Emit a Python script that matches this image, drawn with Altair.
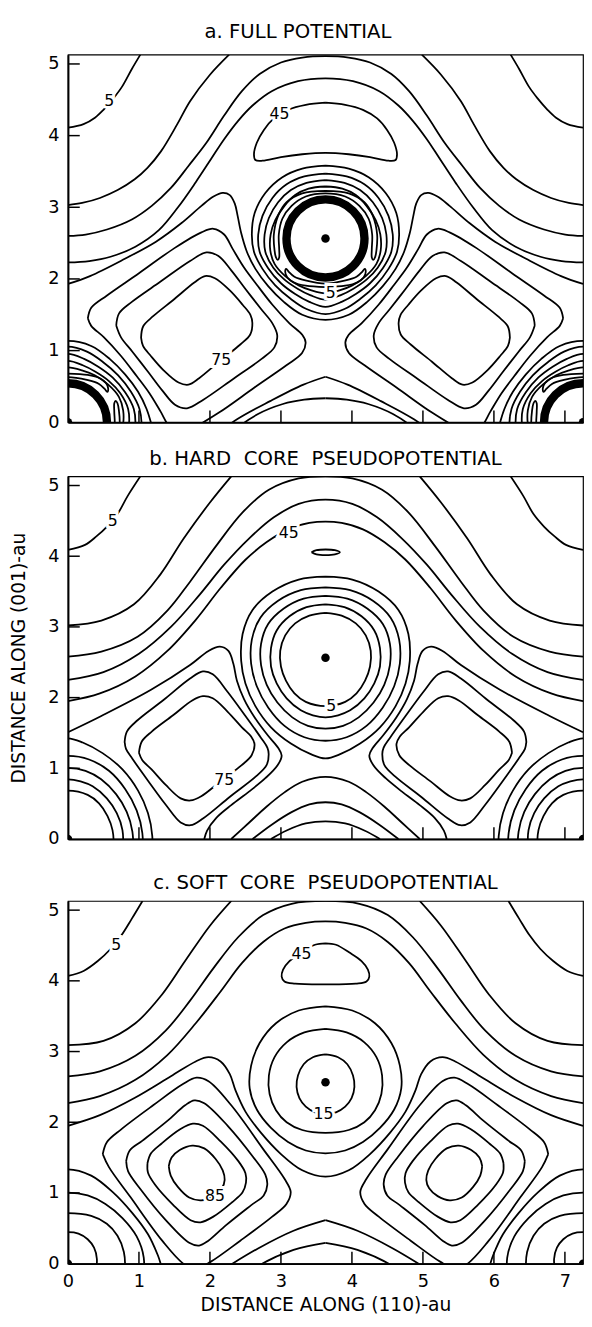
import altair as alt
import pandas as pd

FONT = "DejaVu Sans"
XMAX, YMAX = 7.255, 5.13          # plot extent (au)
CX, CY = 3.6275, 2.565            # centre atom
W = 524

ATOM_X = [0.0, 3.6275, 7.255]
ATOM_Y = [0.0, 2.565, 0.0]
X_LABELS = [0, 1, 2, 3, 4, 5, 6, 7]
Y_LABELS = [0, 1, 2, 3, 4, 5]
X_TICKS_IN = [1, 2, 3, 4, 5, 6, 7]
Y_TICKS_IN = [1, 2, 3, 4, 5]

# ---------------- panel a : full potential ----------------
A5 = [(1.02, 5.13), (0.90, 4.93), (0.76, 4.68), (0.64, 4.52), (0.50, 4.36), (0.38, 4.25), (0.22, 4.16), (0.0, 4.11)]
A15 = [(2.27, 5.13), (2.00, 4.85), (1.72, 4.48), (1.54, 4.16), (1.31, 3.78), (1.12, 3.55), (0.94, 3.39),
       (0.70, 3.24), (0.45, 3.13), (0.20, 3.06), (0.0, 3.03)]
A25 = [(0, 2.60), (0.25, 2.62), (0.55, 2.69), (0.90, 2.83), (1.18, 3.02), (1.45, 3.27), (1.70, 3.58), (1.95, 3.90),
       (2.20, 4.28), (2.45, 4.62), (2.70, 4.86), (3.00, 5.02), (3.30, 5.09), (3.6275, 5.11)]
A35 = [(0, 2.23), (0.30, 2.25), (0.60, 2.31), (0.95, 2.45), (1.28, 2.68), (1.55, 3.00), (1.80, 3.35), (2.02, 3.68),
       (2.20, 3.95), (2.40, 4.21), (2.60, 4.42), (2.87, 4.62), (3.24, 4.76), (3.6275, 4.80)]
A45U = [(0, 1.93), (0.31, 2.04), (0.78, 2.27), (1.24, 2.52), (1.60, 2.78), (1.88, 3.02), (2.05, 3.15), (2.18, 3.20),
        (2.28, 3.17), (2.35, 3.05), (2.39, 2.88), (2.44, 2.64), (2.52, 2.38), (2.64, 2.14), (2.82, 1.90),
        (3.04, 1.68), (3.30, 1.50), (3.6275, 1.43)]
A45LOOP = [(3.6275, 4.46), (3.35, 4.43), (3.10, 4.36), (2.90, 4.24), (2.76, 4.08), (2.66, 3.90), (2.62, 3.74),
           (2.64, 3.66), (2.74, 3.65), (3.00, 3.70), (3.30, 3.74), (3.6275, 3.76)]
AR35 = [(3.6275, 3.58), (3.30, 3.54), (3.02, 3.42), (2.78, 3.20), (2.63, 2.92), (2.59, 2.62), (2.62, 2.38),
        (2.74, 2.14), (2.92, 1.91), (3.14, 1.72), (3.36, 1.58), (3.6275, 1.51)]
AR25 = [(3.6275, 3.47), (3.33, 3.43), (3.08, 3.32), (2.88, 3.13), (2.74, 2.88), (2.68, 2.62), (2.70, 2.38),
        (2.82, 2.15), (3.00, 1.94), (3.20, 1.79), (3.40, 1.68), (3.6275, 1.61)]
AR15 = [(3.6275, 3.38), (3.36, 3.34), (3.14, 3.24), (2.96, 3.07), (2.83, 2.85), (2.77, 2.62), (2.78, 2.38),
        (2.89, 2.16), (3.05, 1.99), (3.24, 1.86), (3.42, 1.77), (3.6275, 1.71)]
AR5 = [(3.6275, 3.29), (3.39, 3.26), (3.20, 3.17), (3.05, 3.02), (2.92, 2.82), (2.855, 2.62), (2.85, 2.40),
       (2.91, 2.21), (3.06, 2.04), (3.25, 1.91), (3.43, 1.84), (3.6275, 1.80)]
AHORSE = [(3.6275, 3.23), (3.30, 3.195), (3.08, 3.07), (2.96, 2.88), (2.90, 2.62), (2.91, 2.40), (2.93, 2.30),
          (2.955, 2.265), (2.975, 2.30), (2.975, 2.42), (2.97, 2.62), (3.02, 2.84), (3.15, 3.02), (3.35, 3.15),
          (3.6275, 3.195)]
ACRESC = [(3.6275, 1.885), (3.35, 1.905), (3.18, 1.95), (3.09, 2.02), (3.06, 2.10), (3.075, 2.14), (3.11, 2.10),
          (3.19, 2.03), (3.36, 1.975), (3.6275, 1.935)]
A55 = [(0.28, 1.45), (0.33, 1.60), (0.55, 1.77), (1.00, 2.08), (1.50, 2.43), (1.88, 2.65), (2.05, 2.70),
       (2.20, 2.62), (2.32, 2.42), (2.48, 2.16), (2.66, 1.92), (2.88, 1.64), (3.12, 1.38), (3.30, 1.22), (3.3475, 1.115)]
A65 = [(0.68, 1.35), (0.72, 1.52), (0.90, 1.68), (1.30, 1.96), (1.72, 2.25), (1.95, 2.37), (2.12, 2.32),
       (2.30, 2.12), (2.50, 1.86), (2.72, 1.58), (2.88, 1.38), (2.9475, 1.215)]
A75 = [(1.03, 1.18), (1.06, 1.34), (1.20, 1.48), (1.50, 1.72), (1.78, 1.95), (1.93, 2.04), (2.07, 2.01),
       (2.28, 1.84), (2.46, 1.64), (2.57, 1.50), (2.5975, 1.385)]
A_LABELS = [("5", 0.58, 4.48), ("45", 2.98, 4.30), ("5", 3.70, 1.80), ("75", 2.16, 0.87)]

# ---------------- panel b : hard core pseudopotential ----------------
B5 = [(1.02, 5.13), (0.84, 4.85), (0.70, 4.60), (0.55, 4.42), (0.40, 4.28), (0.24, 4.16), (0.0, 4.09)]
B15 = [(2.30, 5.13), (2.00, 4.76), (1.63, 4.25), (1.30, 3.74), (0.93, 3.32), (0.47, 3.09), (0.0, 3.02)]
B25 = [(0, 2.58), (0.47, 2.65), (0.98, 2.86), (1.40, 3.23), (1.72, 3.64), (2.09, 4.15), (2.46, 4.62),
       (2.83, 4.94), (3.25, 5.10), (3.6275, 5.13)]
B35 = [(0, 2.25), (0.50, 2.36), (1.00, 2.62), (1.45, 3.00), (1.85, 3.45), (2.20, 3.88), (2.55, 4.25),
       (2.90, 4.55), (3.25, 4.74), (3.6275, 4.80)]
B45 = [(0, 1.95), (0.45, 2.06), (0.95, 2.30), (1.40, 2.66), (1.80, 3.10), (2.15, 3.55), (2.50, 3.95),
       (2.80, 4.20), (3.10, 4.38), (3.40, 4.47), (3.6275, 4.49)]
BELL = [(3.43, 4.055), (3.50, 4.085), (3.63, 4.095), (3.76, 4.085), (3.83, 4.055), (3.76, 4.025), (3.63, 4.015),
        (3.50, 4.025), (3.43, 4.055)]
BR5 = [(3.6275, 3.20), (3.40, 3.16), (3.20, 3.05), (3.06, 2.88), (2.99, 2.66), (3.00, 2.44), (3.07, 2.24),
       (3.19, 2.06), (3.35, 1.94), (3.6275, 1.88)]
BR15 = [(3.6275, 3.32), (3.36, 3.28), (3.12, 3.15), (2.94, 2.95), (2.86, 2.70), (2.86, 2.44), (2.94, 2.20),
        (3.08, 1.99), (3.28, 1.82), (3.45, 1.75), (3.6275, 1.72)]
BR25 = [(3.6275, 3.44), (3.32, 3.40), (3.04, 3.26), (2.82, 3.04), (2.72, 2.76), (2.72, 2.46), (2.80, 2.18),
        (2.95, 1.93), (3.16, 1.72), (3.38, 1.60), (3.6275, 1.56)]
BR35 = [(3.6275, 3.56), (3.28, 3.52), (2.96, 3.37), (2.71, 3.13), (2.59, 2.82), (2.58, 2.48), (2.66, 2.16),
        (2.82, 1.86), (3.05, 1.60), (3.33, 1.44), (3.6275, 1.39)]
BR45 = [(3.6275, 3.71), (3.25, 3.67), (2.88, 3.50), (2.60, 3.24), (2.46, 2.90), (2.44, 2.52), (2.50, 2.20),
        (2.64, 1.88), (2.86, 1.58), (3.14, 1.35), (3.42, 1.20), (3.6275, 1.14)]
B55 = [(0, 1.51), (0.47, 1.74), (1.17, 2.11), (1.72, 2.46), (1.98, 2.66), (2.14, 2.72), (2.26, 2.66), (2.33, 2.48),
       (2.38, 2.24), (2.48, 1.98), (2.63, 1.72), (2.82, 1.46), (2.96, 1.29), (3.01, 1.18), (2.95, 1.04),
       (2.78, 0.86), (2.55, 0.67), (2.30, 0.48), (2.09, 0.30), (1.96, 0.12), (1.92, 0.0)]
B65 = [(0.7975, 1.365), (0.83, 1.52), (0.98, 1.68), (1.35, 1.97), (1.72, 2.27), (1.90, 2.37), (2.04, 2.33),
       (2.25, 2.08), (2.50, 1.74), (2.72, 1.43), (2.81, 1.29), (2.8275, 1.20)]
B75 = [(1.00, 1.22), (1.04, 1.38), (1.18, 1.52), (1.48, 1.75), (1.75, 1.96), (1.90, 2.02), (2.04, 1.99),
       (2.25, 1.80), (2.45, 1.58), (2.58, 1.45), (2.6275, 1.345)]
BARCH1 = [(2.30, 0.0), (2.55, 0.23), (2.80, 0.46), (3.05, 0.66), (3.30, 0.81), (3.6275, 0.88)]
BARCH2 = [(2.60, 0.0), (2.88, 0.21), (3.15, 0.38), (3.40, 0.49), (3.6275, 0.52)]
BARCH3 = [(2.86, 0.0), (3.08, 0.12), (3.35, 0.22), (3.6275, 0.25)]
B_LABELS = [("5", 3.71, 1.88), ("5", 0.63, 4.50), ("45", 3.11, 4.33), ("75", 2.20, 0.84)]

# ---------------- panel c : soft core pseudopotential ----------------
C5 = [(1.05, 5.13), (0.90, 4.88), (0.75, 4.64), (0.60, 4.45), (0.42, 4.28), (0.22, 4.14), (0.0, 4.07)]
C15 = [(2.30, 5.13), (2.00, 4.78), (1.65, 4.28), (1.32, 3.80), (0.95, 3.40), (0.50, 3.15), (0.0, 3.09)]
C25 = [(0, 2.65), (0.45, 2.72), (0.95, 2.94), (1.38, 3.30), (1.72, 3.72), (2.05, 4.18), (2.40, 4.62),
       (2.75, 4.93), (3.15, 5.09), (3.6275, 5.13)]
C35 = [(0, 2.27), (0.45, 2.37), (0.95, 2.60), (1.40, 2.95), (1.80, 3.40), (2.15, 3.85), (2.45, 4.25),
       (2.75, 4.55), (3.05, 4.74), (3.35, 4.82), (3.6275, 4.84)]
C45U = [(0, 1.95), (0.45, 2.10), (0.95, 2.35), (1.45, 2.65), (1.80, 2.86), (1.98, 2.92), (2.15, 2.86),
        (2.28, 2.68), (2.36, 2.45), (2.50, 2.15), (2.72, 1.85), (3.00, 1.55), (3.30, 1.32), (3.6275, 1.23)]
C45LOOP = [(3.6275, 4.53), (3.48, 4.51), (3.29, 4.40), (3.12, 4.28), (3.03, 4.16), (3.01, 4.06), (3.05, 3.99),
           (3.20, 3.96), (3.6275, 3.95)]
CR15 = [(3.6275, 2.96), (3.45, 2.92), (3.32, 2.82), (3.24, 2.66), (3.22, 2.50), (3.26, 2.34), (3.35, 2.22),
        (3.48, 2.14), (3.6275, 2.12)]
CR25 = [(3.6275, 3.32), (3.33, 3.27), (3.08, 3.13), (2.91, 2.92), (2.83, 2.66), (2.84, 2.40), (2.93, 2.17),
        (3.08, 2.00), (3.30, 1.89), (3.6275, 1.85)]
CR35 = [(3.6275, 3.64), (3.25, 3.58), (2.93, 3.40), (2.70, 3.12), (2.58, 2.80), (2.56, 2.48), (2.66, 2.18),
        (2.86, 1.92), (3.10, 1.72), (3.35, 1.60), (3.6275, 1.56)]
C55 = [(0.49, 1.55), (0.55, 1.72), (0.75, 1.90), (1.20, 2.24), (1.62, 2.54), (1.81, 2.63), (1.98, 2.58),
       (2.30, 2.24), (2.75, 1.62), (3.05, 1.20), (3.1375, 1.015)]
C65 = [(0.82, 1.45), (0.87, 1.60), (1.05, 1.74), (1.40, 2.02), (1.65, 2.24), (1.78, 2.31), (1.92, 2.27),
       (2.25, 1.95), (2.60, 1.52), (2.78, 1.26), (2.8075, 1.115)]
C75 = [(1.12, 1.42), (1.17, 1.56), (1.32, 1.70), (1.58, 1.90), (1.76, 1.98), (1.90, 1.95), (2.15, 1.73),
       (2.40, 1.45), (2.50, 1.28), (2.5075, 1.145)]
C85 = [(1.42, 1.38), (1.46, 1.50), (1.58, 1.61), (1.75, 1.67), (1.92, 1.63), (2.08, 1.48), (2.18, 1.32),
       (2.2075, 1.185)]
C_LABELS = [("5", 0.68, 4.50), ("45", 3.29, 4.38), ("15", 3.60, 2.12), ("85", 2.07, 0.96)]


# symmetry helpers: mirror about x = 3.6275, 2-fold rotation about the bond centre
def M(p):
    return [(XMAX - x, y) for x, y in p]


def R(p):
    return [(CX - x, CY - y) for x, y in p]


def sym(h):
    return h + list(reversed(M(h)))[1:]


def bond(p):
    return p + R(p)[1:]


def build(sym_pieces, free_pieces, bond_pieces, rot_pieces):
    paths = [sym(h) for h in sym_pieces]
    for p in free_pieces:
        paths += [p, M(p)]
    for p in bond_pieces:
        b = bond(p)
        paths += [b, M(b)]
    for h in rot_pieces:
        r = R(sym(h))
        paths += [r, M(r)]
    return paths


PATHS_A = build([A25, A35, A45U, A45LOOP, AR35, AR25, AR15, AR5, AHORSE, ACRESC], [A5, A15], [A55, A65, A75],
                [A35, A45U, AR35, AR25, AR15, AR5, AHORSE, ACRESC])
PATHS_B = build([B25, B35, B45, BR5, BR15, BR25, BR35, BR45, BARCH1, BARCH2, BARCH3], [B5, B15, B55],
                [B65, B75], [BR5, BR15, BR25, BR35, BR45]) + [BELL]
PATHS_C = build([C25, C35, C45U, C45LOOP, CR15, CR25, CR35], [C5, C15], [C55, C65, C75, C85],
                [C35, C45U, CR15, CR25, CR35])


def frame(paths):
    rows = []
    for i, p in enumerate(paths):
        for j, (x, y) in enumerate(p):
            rows.append({"pid": i, "ord": j, "x": x, "y": y})
    return pd.DataFrame(rows)


XS = alt.Scale(domain=[0, XMAX], nice=False, zero=False)
YS = alt.Scale(domain=[0, YMAX], nice=False, zero=False)


def panel(paths, labels, title, show_x, title_offset, title_dx, y_title_opacity, thick, h):
    df = frame(paths)
    xaxis = alt.Axis(values=X_LABELS, ticks=False, grid=False, domainWidth=2, domainColor="black",
                     labelFlush=False, labels=show_x, title="DISTANCE ALONG (110)-au" if show_x else "",
                     labelPadding=9, titlePadding=6)
    yaxis = alt.Axis(values=Y_LABELS, ticks=False, grid=False, domainWidth=2, domainColor="black",
                     labelFlush=False, title="DISTANCE ALONG (001)-au", titleOpacity=y_title_opacity,
                     labelPadding=9, titlePadding=20)

    def xy(xf="x", yf="y"):
        return dict(x=alt.X(f"{xf}:Q", scale=XS, axis=xaxis), y=alt.Y(f"{yf}:Q", scale=YS, axis=yaxis))

    lines = alt.Chart(df).mark_line(interpolate="catmull-rom", clip=True, color="black", strokeWidth=1.8).encode(
        detail="pid:N", order="ord:Q", **xy())
    atoms = pd.DataFrame({"x": ATOM_X, "y": ATOM_Y})
    layers = [lines]
    if thick:
        layers.append(alt.Chart(atoms).mark_point(shape="circle", filled=False, size=6300, strokeWidth=8.5,
                                                  color="black", opacity=1, clip=True).encode(**xy()))
    layers.append(alt.Chart(atoms).mark_point(shape="circle", filled=True, size=75, color="black", opacity=1,
                                              clip=True).encode(**xy()))
    lab = pd.DataFrame({"t": [l[0] for l in labels], "x": [l[1] for l in labels], "y": [l[2] for l in labels]})
    layers.append(alt.Chart(lab).mark_text(font=FONT, fontSize=16, color="white", stroke="white",
                                           strokeWidth=6).encode(text="t:N", **xy()))
    layers.append(alt.Chart(lab).mark_text(font=FONT, fontSize=16, color="black").encode(text="t:N", **xy()))
    layers.append(alt.Chart(pd.DataFrame({"v": Y_TICKS_IN})).mark_rule(color="black", strokeWidth=1.5).encode(
        y=alt.Y("v:Q", scale=YS, axis=yaxis), x=alt.value(0), x2=alt.value(12)))
    layers.append(alt.Chart(pd.DataFrame({"v": X_TICKS_IN})).mark_rule(color="black", strokeWidth=1.5).encode(
        x=alt.X("v:Q", scale=XS, axis=xaxis), y=alt.value(h), y2=alt.value(h - 12)))
    return alt.layer(*layers).properties(
        width=W, height=h,
        title=alt.Title(title, offset=title_offset, dx=title_dx, fontSize=20, font=FONT, fontWeight="normal",
                        color="black"),
    )


pa = panel(PATHS_A, A_LABELS, "a. FULL POTENTIAL", False, 13, -28, 0, True, 374)
pb = panel(PATHS_B, B_LABELS, "b. HARD\u00a0 CORE\u00a0 PSEUDOPOTENTIAL", False, 8, 0, 1, False, 369)
pc = panel(PATHS_C, C_LABELS, "c. SOFT\u00a0 CORE\u00a0 PSEUDOPOTENTIAL", True, 8, 0, 0, False, 369)

chart = alt.vconcat(alt.vconcat(pa, pb, spacing=16), pc, spacing=24).properties(
    padding={"left": 0, "top": 2, "right": 0, "bottom": 0}
).configure_view(stroke="black", strokeWidth=1.2).configure_axis(
    labelFont=FONT, labelFontSize=18, labelColor="black", titleFont=FONT, titleFontSize=19,
    titleFontWeight="normal", titleColor="black"
)

chart.save("out.html", embed_options={"renderer": "svg", "actions": False})
